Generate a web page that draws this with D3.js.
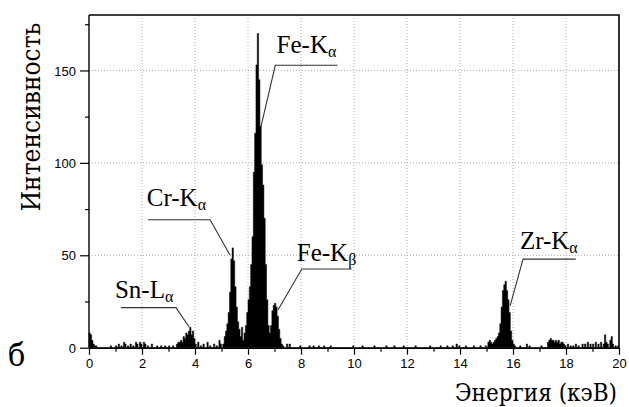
<!DOCTYPE html>
<html><head><meta charset="utf-8">
<script src="https://cdn.jsdelivr.net/npm/d3@7"></script>
<style>body{margin:0;background:#fff}svg{display:block}</style>
</head><body>
<script>
// ---- data (spectrum channels, 0.05 keV wide; only non-zero channels listed) ----
const channelWidth = 0.05;
const energyKeV = [
 0.00,0.05,0.10,0.15,0.20,0.25,
 0.80,1.00,1.10,1.20,1.30,1.35,1.45,1.55,1.65,1.75,1.80,1.90,1.95,2.05,2.10,2.20,2.35,2.55,2.70,2.85,3.00,3.15,
 3.30,3.35,3.40,3.45,3.50,3.55,3.60,3.65,3.70,3.75,3.80,3.85,3.90,3.95,4.00,
 4.10,4.20,4.30,4.45,4.55,4.70,4.80,4.90,4.95,
 5.05,5.10,5.15,5.20,5.25,5.30,5.35,5.40,5.45,5.50,5.55,5.60,5.65,5.70,5.75,5.80,
 5.85,5.90,5.95,6.00,6.05,6.10,6.15,6.20,6.25,6.30,6.35,6.40,6.45,6.50,6.55,6.60,6.65,6.70,6.75,6.80,
 6.85,6.90,6.95,7.00,7.05,7.10,7.15,7.20,7.25,7.30,
 7.45,7.55,7.95,8.30,8.45,8.65,8.85,9.10,9.95,10.30,10.75,11.20,11.50,11.85,12.30,12.85,13.25,13.50,13.70,13.85,13.95,14.20,14.50,14.75,14.95,
 15.05,15.10,15.15,15.20,15.25,15.30,15.35,15.40,15.45,15.50,15.55,15.60,15.65,15.70,15.75,15.80,15.85,15.90,15.95,16.00,16.05,
 16.25,16.50,16.60,17.05,
 17.30,17.35,17.40,17.45,17.50,17.55,17.60,17.65,17.70,17.75,17.80,17.85,17.90,17.95,
 18.05,18.15,18.25,18.35,18.45,18.60,18.70,18.80,18.90,19.00,19.10,19.20,19.30,19.40,19.45,19.50,19.55,19.65,19.70,19.75,19.85,19.95
];
const counts = [
 8,7,4,2,1,1,
 1,1,2,1,3,2,1,2,1,3,2,3,2,3,2,1,2,1,1,1,1,1,
 2,3,3,4,3,6,5,8,7,9,11,7,9,5,2,
 3,1,2,3,1,2,1,4,2,
 2,6,9,13,19,30,48,54,47,33,22,14,10,6,11,4,
 8,12,19,26,33,45,60,95,116,153,170,145,120,99,88,70,45,26,12,8,
 12,20,23,24,22,17,10,5,2,1,
 2,2,1,1,1,1,1,1,1,1,1,1,1,1,1,1,1,1,1,2,1,1,1,1,1,
 3,4,3,2,3,4,5,6,8,13,22,31,34,36,31,26,19,9,4,2,1,
 1,2,1,1,
 3,4,5,4,4,3,4,3,4,2,3,3,2,1,
 2,1,1,2,1,2,2,3,2,2,3,2,3,2,7,3,2,4,6,2,1,1
];
const xMajorTicks = [0,2,4,6,8,10,12,14,16,18,20];
const yMajorTicks = [0,50,100,150];
const peakLabels = ["Fe-K","Cr-K","Sn-L","Fe-K","Zr-K"];
const peakSubs   = ["α","α","α","β","α"];
// label anchor (keV, counts) and leader polyline points (keV, counts)
const labelE = [7.08, 2.18, 0.98, 7.84, 16.26];
const labelC = [159.5, 76.8, 27.1, 47.1, 53.3];
const leaderE = [[6.48,7.03,9.38],[5.32,4.57,2.23],[3.78,3.28,1.21],[7.13,8.03,9.91],[15.89,16.38,18.37]];
const leaderC = [[119,152.8,152.8],[50.2,69.2,69.2],[11.2,21.7,21.7],[20.4,42.6,42.6],[22.6,47.9,47.9]];

// ---- layout ----
const W = 629, H = 407;
const L = 89, R = 619, T = 15, B = 347.7;
const svg = d3.select("body").append("svg").attr("width", W).attr("height", H);
const x = d3.scaleLinear().domain([0, 20]).range([L, R]);
const y = d3.scaleLinear().domain([0, 180]).range([B, T]);

// grid
const grid = svg.append("g").attr("stroke", "#aaa").attr("stroke-width", 1).attr("stroke-dasharray", "1,2");
grid.selectAll("line.v").data(xMajorTicks.filter(d => d > 0 && d < 20)).join("line")
  .attr("x1", d => x(d)).attr("x2", d => x(d)).attr("y1", T).attr("y2", B);
grid.selectAll("line.h").data(yMajorTicks.filter(d => d > 0)).join("line")
  .attr("y1", d => y(d)).attr("y2", d => y(d)).attr("x1", L).attr("x2", R);

// spectrum as a step area (channels -> step points)
const pts = [];
energyKeV.forEach((e, i) => {
  const prevEnd = i > 0 ? energyKeV[i - 1] + channelWidth : -1;
  if (Math.abs(prevEnd - e) > 1e-6) pts.push([e, 0]);
  pts.push([e, counts[i]]);
  const next = energyKeV[i + 1];
  if (next === undefined || Math.abs(next - (e + channelWidth)) > 1e-6) pts.push([e + channelWidth, 0]);
});
const area = d3.area().curve(d3.curveStepAfter)
  .x(d => x(d[0])).y0(y(0)).y1(d => y(d[1]));
svg.append("path").datum(pts).attr("d", area).attr("fill", "#000")
  .attr("stroke", "#000").attr("stroke-width", 0.5);

// frame top/right
svg.append("path").attr("d", `M${L},${T}H${R}V${B}`).attr("fill", "none").attr("stroke", "#000").attr("stroke-width", 1.6);

// axes
const sans = "'Liberation Sans', Arial, sans-serif";
const xAxis = d3.axisBottom(x).tickValues(d3.range(0, 21, 1)).tickSize(0).tickFormat("");
const gx = svg.append("g").attr("transform", `translate(0,${B})`).call(xAxis);
gx.select(".domain").attr("stroke", "#000").attr("stroke-width", 1.4);
gx.selectAll(".tick line").attr("y2", d => (d % 2 === 0 ? 7 : 4)).attr("stroke", "#000").attr("stroke-width", 1.2);
gx.selectAll(".tick text").filter(d => d % 2 === 0).text(d => d)
  .attr("y", 11).attr("dy", "0.71em").attr("font-family", sans).attr("font-size", 13).attr("fill", "#000");

const yAxis = d3.axisLeft(y).tickValues(d3.range(0, 176, 25)).tickSize(0).tickFormat("");
const gy = svg.append("g").attr("transform", `translate(${L},0)`).call(yAxis);
gy.select(".domain").attr("stroke", "#000").attr("stroke-width", 1.4).attr("d", `M0,${B}V${T}`);
gy.selectAll(".tick line").attr("x2", d => (d % 50 === 0 ? -9 : -4)).attr("stroke", "#000").attr("stroke-width", 1.2);
gy.selectAll(".tick text").filter(d => d % 50 === 0).text(d => d)
  .attr("x", -13).attr("dy", "0.36em").attr("font-family", sans).attr("font-size", 13).attr("fill", "#000");

// titles
const serif = "'Liberation Serif', 'Times New Roman', serif";
const cyr = "'DejaVu Serif Condensed', 'DejaVu Serif', serif";
svg.append("text").attr("transform", `translate(40,117) rotate(-90)`).attr("text-anchor", "middle")
  .attr("font-family", cyr).attr("font-stretch", "condensed").attr("font-size", 26).text("Интенсивность");
svg.append("text").attr("x", 617).attr("y", 401).attr("text-anchor", "end")
  .attr("font-family", cyr).attr("font-stretch", "condensed").attr("font-size", 24).text("Энергия (кэВ)");
svg.append("text").attr("x", 8).attr("y", 366).attr("font-family", cyr).attr("font-stretch", "condensed").attr("font-size", 32).text("б");

// peak annotations
const ann = svg.append("g");
leaderE.forEach((es, i) => {
  ann.append("path")
    .attr("d", d3.line()(es.map((e, j) => [x(e), y(leaderC[i][j])])))
    .attr("fill", "none").attr("stroke", "#333").attr("stroke-width", 1.1);
});
peakLabels.forEach((t, i) => {
  const tx = ann.append("text").attr("x", x(labelE[i])).attr("y", y(labelC[i]))
    .attr("font-family", serif).attr("font-size", 25).text(t);
  tx.append("tspan").attr("font-size", 16).attr("dy", 4).text(peakSubs[i]);
});
</script>
</body></html>
